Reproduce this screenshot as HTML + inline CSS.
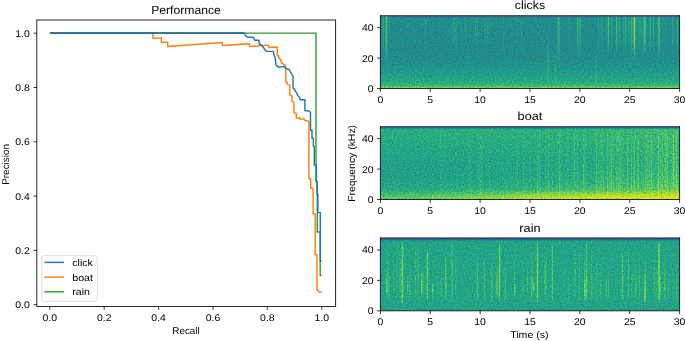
<!DOCTYPE html>
<html><head><meta charset="utf-8"><title>Performance</title>
<style>html,body{margin:0;padding:0;background:#fff;width:685px;height:341px;overflow:hidden}svg{display:block}text{font-family:"Liberation Sans",sans-serif}</style>
</head><body>
<svg width="685" height="341" viewBox="0 0 685 341" font-family="Liberation Sans, sans-serif" fill="#000" text-rendering="geometricPrecision" style="will-change:transform">
<defs>
<clipPath id="clipL"><rect x="36.8" y="20.0" width="298.85" height="286.45"/></clipPath>
<clipPath id="clipS0"><rect x="380.4" y="15.5" width="299.20" height="73.00"/></clipPath>
<clipPath id="clipS1"><rect x="380.4" y="126.5" width="299.20" height="73.00"/></clipPath>
<clipPath id="clipS2"><rect x="380.4" y="237.8" width="299.20" height="73.00"/></clipPath>
<filter id="vf0" filterUnits="userSpaceOnUse" x="380.4" y="15.5" width="299.20" height="73.0" color-interpolation-filters="sRGB"><feTurbulence type="fractalNoise" baseFrequency="0.65" numOctaves="1" seed="3" result="t"/><feColorMatrix in="t" type="matrix" values="1 0 0 0 0  1 0 0 0 0  1 0 0 0 0  0 0 0 0 1" result="tg"/><feComponentTransfer in="tg" result="tn"><feFuncR type="table" tableValues="0.2511 0.2536 0.2561 0.2586 0.2610 0.2635 0.2660 0.2711 0.2847 0.2980 0.3108 0.3233 0.3353 0.3470 0.3582 0.3691 0.3796 0.3898 0.3995 0.4089 0.4180 0.4267 0.4351 0.4432 0.4510 0.4585 0.4657 0.4726 0.4794 0.4859 0.4922 0.4982 0.5041 0.5099 0.5154 0.5208 0.5261 0.5313 0.5363 0.5412 0.5460 0.5507 0.5553 0.5598 0.5643 0.5686 0.5729 0.5772 0.5813 0.5854 0.5895 0.5935 0.5975 0.6014 0.6052 0.6091 0.6128 0.6166 0.6194 0.6218 0.6243 0.6268 0.6293 0.6317 0.6342"/><feFuncG type="table" tableValues="0.2511 0.2536 0.2561 0.2586 0.2610 0.2635 0.2660 0.2711 0.2847 0.2980 0.3108 0.3233 0.3353 0.3470 0.3582 0.3691 0.3796 0.3898 0.3995 0.4089 0.4180 0.4267 0.4351 0.4432 0.4510 0.4585 0.4657 0.4726 0.4794 0.4859 0.4922 0.4982 0.5041 0.5099 0.5154 0.5208 0.5261 0.5313 0.5363 0.5412 0.5460 0.5507 0.5553 0.5598 0.5643 0.5686 0.5729 0.5772 0.5813 0.5854 0.5895 0.5935 0.5975 0.6014 0.6052 0.6091 0.6128 0.6166 0.6194 0.6218 0.6243 0.6268 0.6293 0.6317 0.6342"/><feFuncB type="table" tableValues="0.2511 0.2536 0.2561 0.2586 0.2610 0.2635 0.2660 0.2711 0.2847 0.2980 0.3108 0.3233 0.3353 0.3470 0.3582 0.3691 0.3796 0.3898 0.3995 0.4089 0.4180 0.4267 0.4351 0.4432 0.4510 0.4585 0.4657 0.4726 0.4794 0.4859 0.4922 0.4982 0.5041 0.5099 0.5154 0.5208 0.5261 0.5313 0.5363 0.5412 0.5460 0.5507 0.5553 0.5598 0.5643 0.5686 0.5729 0.5772 0.5813 0.5854 0.5895 0.5935 0.5975 0.6014 0.6052 0.6091 0.6128 0.6166 0.6194 0.6218 0.6243 0.6268 0.6293 0.6317 0.6342"/></feComponentTransfer><feComposite in="SourceGraphic" in2="tn" operator="arithmetic" k1="0" k2="1" k3="1" k4="-0.5" result="v"/><feComponentTransfer in="v"><feFuncR type="table" tableValues="0.2670 0.2699 0.2726 0.2750 0.2770 0.2788 0.2803 0.2814 0.2823 0.2829 0.2832 0.2832 0.2829 0.2823 0.2814 0.2803 0.2788 0.2771 0.2752 0.2730 0.2706 0.2680 0.2651 0.2621 0.2590 0.2556 0.2522 0.2486 0.2450 0.2412 0.2374 0.2336 0.2297 0.2259 0.2220 0.2181 0.2143 0.2105 0.2068 0.2031 0.1994 0.1959 0.1924 0.1889 0.1856 0.1823 0.1790 0.1758 0.1727 0.1696 0.1666 0.1636 0.1607 0.1577 0.1548 0.1519 0.1490 0.1462 0.1433 0.1405 0.1378 0.1351 0.1324 0.1299 0.1276 0.1254 0.1235 0.1218 0.1206 0.1197 0.1194 0.1197 0.1206 0.1223 0.1248 0.1281 0.1323 0.1373 0.1433 0.1501 0.1579 0.1664 0.1757 0.1858 0.1966 0.2080 0.2201 0.2328 0.2461 0.2599 0.2741 0.2889 0.3041 0.3198 0.3359 0.3524 0.3692 0.3864 0.4040 0.4219 0.4401 0.4587 0.4775 0.4966 0.5160 0.5356 0.5555 0.5756 0.5958 0.6163 0.6369 0.6576 0.6785 0.6994 0.7204 0.7414 0.7624 0.7833 0.8042 0.8249 0.8456 0.8660 0.8863 0.9063 0.9261 0.9456 0.9649 0.9839 0.9932"/><feFuncG type="table" tableValues="0.0049 0.0146 0.0256 0.0378 0.0503 0.0621 0.0734 0.0843 0.0950 0.1054 0.1157 0.1258 0.1359 0.1459 0.1558 0.1657 0.1755 0.1852 0.1949 0.2045 0.2141 0.2235 0.2330 0.2423 0.2515 0.2607 0.2698 0.2788 0.2877 0.2965 0.3052 0.3138 0.3224 0.3308 0.3392 0.3474 0.3556 0.3637 0.3718 0.3797 0.3876 0.3954 0.4032 0.4109 0.4186 0.4262 0.4338 0.4413 0.4488 0.4563 0.4637 0.4711 0.4785 0.4859 0.4933 0.5007 0.5081 0.5154 0.5228 0.5301 0.5375 0.5449 0.5522 0.5596 0.5669 0.5743 0.5817 0.5891 0.5964 0.6038 0.6111 0.6185 0.6258 0.6332 0.6405 0.6477 0.6550 0.6623 0.6695 0.6766 0.6838 0.6909 0.6979 0.7049 0.7118 0.7187 0.7255 0.7322 0.7389 0.7455 0.7520 0.7584 0.7647 0.7709 0.7770 0.7830 0.7889 0.7946 0.8003 0.8058 0.8111 0.8164 0.8214 0.8264 0.8312 0.8358 0.8403 0.8446 0.8487 0.8527 0.8565 0.8602 0.8637 0.8671 0.8703 0.8734 0.8764 0.8793 0.8820 0.8847 0.8873 0.8899 0.8924 0.8949 0.8973 0.8998 0.9023 0.9049 0.9062"/><feFuncB type="table" tableValues="0.3294 0.3414 0.3531 0.3645 0.3757 0.3866 0.3972 0.4074 0.4173 0.4269 0.4361 0.4450 0.4534 0.4615 0.4692 0.4765 0.4834 0.4899 0.4960 0.5017 0.5071 0.5120 0.5166 0.5208 0.5247 0.5283 0.5316 0.5346 0.5373 0.5397 0.5419 0.5439 0.5457 0.5473 0.5488 0.5500 0.5512 0.5522 0.5531 0.5539 0.5546 0.5553 0.5558 0.5563 0.5568 0.5571 0.5574 0.5577 0.5579 0.5580 0.5581 0.5581 0.5581 0.5580 0.5578 0.5576 0.5573 0.5568 0.5563 0.5557 0.5549 0.5540 0.5530 0.5519 0.5506 0.5491 0.5474 0.5456 0.5436 0.5414 0.5390 0.5363 0.5335 0.5304 0.5271 0.5235 0.5197 0.5156 0.5112 0.5066 0.5017 0.4965 0.4910 0.4853 0.4792 0.4729 0.4662 0.4593 0.4520 0.4445 0.4366 0.4284 0.4199 0.4112 0.4020 0.3926 0.3829 0.3729 0.3626 0.3519 0.3410 0.3297 0.3182 0.3064 0.2943 0.2819 0.2693 0.2564 0.2433 0.2301 0.2166 0.2031 0.1895 0.1760 0.1626 0.1496 0.1371 0.1254 0.1150 0.1062 0.0997 0.0960 0.0954 0.0981 0.1041 0.1128 0.1239 0.1369 0.1439"/><feFuncA type="linear" slope="0" intercept="1"/></feComponentTransfer></filter>
<filter id="vf1" filterUnits="userSpaceOnUse" x="380.4" y="126.5" width="299.20" height="73.0" color-interpolation-filters="sRGB"><feTurbulence type="fractalNoise" baseFrequency="0.65" numOctaves="1" seed="10" result="t"/><feColorMatrix in="t" type="matrix" values="1 0 0 0 0  1 0 0 0 0  1 0 0 0 0  0 0 0 0 1" result="tg"/><feComponentTransfer in="tg" result="tn"><feFuncR type="table" tableValues="0.2333 0.2360 0.2387 0.2413 0.2440 0.2466 0.2493 0.2547 0.2694 0.2835 0.2973 0.3106 0.3236 0.3360 0.3481 0.3598 0.3710 0.3819 0.3923 0.4024 0.4121 0.4215 0.4305 0.4391 0.4475 0.4555 0.4632 0.4707 0.4779 0.4849 0.4916 0.4981 0.5044 0.5106 0.5165 0.5223 0.5280 0.5335 0.5389 0.5441 0.5493 0.5543 0.5592 0.5641 0.5689 0.5735 0.5781 0.5827 0.5871 0.5916 0.5959 0.6002 0.6044 0.6086 0.6128 0.6169 0.6209 0.6249 0.6279 0.6305 0.6332 0.6358 0.6385 0.6411 0.6438"/><feFuncG type="table" tableValues="0.2333 0.2360 0.2387 0.2413 0.2440 0.2466 0.2493 0.2547 0.2694 0.2835 0.2973 0.3106 0.3236 0.3360 0.3481 0.3598 0.3710 0.3819 0.3923 0.4024 0.4121 0.4215 0.4305 0.4391 0.4475 0.4555 0.4632 0.4707 0.4779 0.4849 0.4916 0.4981 0.5044 0.5106 0.5165 0.5223 0.5280 0.5335 0.5389 0.5441 0.5493 0.5543 0.5592 0.5641 0.5689 0.5735 0.5781 0.5827 0.5871 0.5916 0.5959 0.6002 0.6044 0.6086 0.6128 0.6169 0.6209 0.6249 0.6279 0.6305 0.6332 0.6358 0.6385 0.6411 0.6438"/><feFuncB type="table" tableValues="0.2333 0.2360 0.2387 0.2413 0.2440 0.2466 0.2493 0.2547 0.2694 0.2835 0.2973 0.3106 0.3236 0.3360 0.3481 0.3598 0.3710 0.3819 0.3923 0.4024 0.4121 0.4215 0.4305 0.4391 0.4475 0.4555 0.4632 0.4707 0.4779 0.4849 0.4916 0.4981 0.5044 0.5106 0.5165 0.5223 0.5280 0.5335 0.5389 0.5441 0.5493 0.5543 0.5592 0.5641 0.5689 0.5735 0.5781 0.5827 0.5871 0.5916 0.5959 0.6002 0.6044 0.6086 0.6128 0.6169 0.6209 0.6249 0.6279 0.6305 0.6332 0.6358 0.6385 0.6411 0.6438"/></feComponentTransfer><feComposite in="SourceGraphic" in2="tn" operator="arithmetic" k1="0" k2="1" k3="1" k4="-0.5" result="v"/><feComponentTransfer in="v"><feFuncR type="table" tableValues="0.2670 0.2699 0.2726 0.2750 0.2770 0.2788 0.2803 0.2814 0.2823 0.2829 0.2832 0.2832 0.2829 0.2823 0.2814 0.2803 0.2788 0.2771 0.2752 0.2730 0.2706 0.2680 0.2651 0.2621 0.2590 0.2556 0.2522 0.2486 0.2450 0.2412 0.2374 0.2336 0.2297 0.2259 0.2220 0.2181 0.2143 0.2105 0.2068 0.2031 0.1994 0.1959 0.1924 0.1889 0.1856 0.1823 0.1790 0.1758 0.1727 0.1696 0.1666 0.1636 0.1607 0.1577 0.1548 0.1519 0.1490 0.1462 0.1433 0.1405 0.1378 0.1351 0.1324 0.1299 0.1276 0.1254 0.1235 0.1218 0.1206 0.1197 0.1194 0.1197 0.1206 0.1223 0.1248 0.1281 0.1323 0.1373 0.1433 0.1501 0.1579 0.1664 0.1757 0.1858 0.1966 0.2080 0.2201 0.2328 0.2461 0.2599 0.2741 0.2889 0.3041 0.3198 0.3359 0.3524 0.3692 0.3864 0.4040 0.4219 0.4401 0.4587 0.4775 0.4966 0.5160 0.5356 0.5555 0.5756 0.5958 0.6163 0.6369 0.6576 0.6785 0.6994 0.7204 0.7414 0.7624 0.7833 0.8042 0.8249 0.8456 0.8660 0.8863 0.9063 0.9261 0.9456 0.9649 0.9839 0.9932"/><feFuncG type="table" tableValues="0.0049 0.0146 0.0256 0.0378 0.0503 0.0621 0.0734 0.0843 0.0950 0.1054 0.1157 0.1258 0.1359 0.1459 0.1558 0.1657 0.1755 0.1852 0.1949 0.2045 0.2141 0.2235 0.2330 0.2423 0.2515 0.2607 0.2698 0.2788 0.2877 0.2965 0.3052 0.3138 0.3224 0.3308 0.3392 0.3474 0.3556 0.3637 0.3718 0.3797 0.3876 0.3954 0.4032 0.4109 0.4186 0.4262 0.4338 0.4413 0.4488 0.4563 0.4637 0.4711 0.4785 0.4859 0.4933 0.5007 0.5081 0.5154 0.5228 0.5301 0.5375 0.5449 0.5522 0.5596 0.5669 0.5743 0.5817 0.5891 0.5964 0.6038 0.6111 0.6185 0.6258 0.6332 0.6405 0.6477 0.6550 0.6623 0.6695 0.6766 0.6838 0.6909 0.6979 0.7049 0.7118 0.7187 0.7255 0.7322 0.7389 0.7455 0.7520 0.7584 0.7647 0.7709 0.7770 0.7830 0.7889 0.7946 0.8003 0.8058 0.8111 0.8164 0.8214 0.8264 0.8312 0.8358 0.8403 0.8446 0.8487 0.8527 0.8565 0.8602 0.8637 0.8671 0.8703 0.8734 0.8764 0.8793 0.8820 0.8847 0.8873 0.8899 0.8924 0.8949 0.8973 0.8998 0.9023 0.9049 0.9062"/><feFuncB type="table" tableValues="0.3294 0.3414 0.3531 0.3645 0.3757 0.3866 0.3972 0.4074 0.4173 0.4269 0.4361 0.4450 0.4534 0.4615 0.4692 0.4765 0.4834 0.4899 0.4960 0.5017 0.5071 0.5120 0.5166 0.5208 0.5247 0.5283 0.5316 0.5346 0.5373 0.5397 0.5419 0.5439 0.5457 0.5473 0.5488 0.5500 0.5512 0.5522 0.5531 0.5539 0.5546 0.5553 0.5558 0.5563 0.5568 0.5571 0.5574 0.5577 0.5579 0.5580 0.5581 0.5581 0.5581 0.5580 0.5578 0.5576 0.5573 0.5568 0.5563 0.5557 0.5549 0.5540 0.5530 0.5519 0.5506 0.5491 0.5474 0.5456 0.5436 0.5414 0.5390 0.5363 0.5335 0.5304 0.5271 0.5235 0.5197 0.5156 0.5112 0.5066 0.5017 0.4965 0.4910 0.4853 0.4792 0.4729 0.4662 0.4593 0.4520 0.4445 0.4366 0.4284 0.4199 0.4112 0.4020 0.3926 0.3829 0.3729 0.3626 0.3519 0.3410 0.3297 0.3182 0.3064 0.2943 0.2819 0.2693 0.2564 0.2433 0.2301 0.2166 0.2031 0.1895 0.1760 0.1626 0.1496 0.1371 0.1254 0.1150 0.1062 0.0997 0.0960 0.0954 0.0981 0.1041 0.1128 0.1239 0.1369 0.1439"/><feFuncA type="linear" slope="0" intercept="1"/></feComponentTransfer></filter>
<filter id="vf2" filterUnits="userSpaceOnUse" x="380.4" y="237.8" width="299.20" height="73.0" color-interpolation-filters="sRGB"><feTurbulence type="fractalNoise" baseFrequency="0.65" numOctaves="1" seed="17" result="t"/><feColorMatrix in="t" type="matrix" values="1 0 0 0 0  1 0 0 0 0  1 0 0 0 0  0 0 0 0 1" result="tg"/><feComponentTransfer in="tg" result="tn"><feFuncR type="table" tableValues="0.2511 0.2536 0.2561 0.2586 0.2610 0.2635 0.2660 0.2711 0.2847 0.2980 0.3108 0.3233 0.3353 0.3470 0.3582 0.3691 0.3796 0.3898 0.3995 0.4089 0.4180 0.4267 0.4351 0.4432 0.4510 0.4585 0.4657 0.4726 0.4794 0.4859 0.4922 0.4982 0.5041 0.5099 0.5154 0.5208 0.5261 0.5313 0.5363 0.5412 0.5460 0.5507 0.5553 0.5598 0.5643 0.5686 0.5729 0.5772 0.5813 0.5854 0.5895 0.5935 0.5975 0.6014 0.6052 0.6091 0.6128 0.6166 0.6194 0.6218 0.6243 0.6268 0.6293 0.6317 0.6342"/><feFuncG type="table" tableValues="0.2511 0.2536 0.2561 0.2586 0.2610 0.2635 0.2660 0.2711 0.2847 0.2980 0.3108 0.3233 0.3353 0.3470 0.3582 0.3691 0.3796 0.3898 0.3995 0.4089 0.4180 0.4267 0.4351 0.4432 0.4510 0.4585 0.4657 0.4726 0.4794 0.4859 0.4922 0.4982 0.5041 0.5099 0.5154 0.5208 0.5261 0.5313 0.5363 0.5412 0.5460 0.5507 0.5553 0.5598 0.5643 0.5686 0.5729 0.5772 0.5813 0.5854 0.5895 0.5935 0.5975 0.6014 0.6052 0.6091 0.6128 0.6166 0.6194 0.6218 0.6243 0.6268 0.6293 0.6317 0.6342"/><feFuncB type="table" tableValues="0.2511 0.2536 0.2561 0.2586 0.2610 0.2635 0.2660 0.2711 0.2847 0.2980 0.3108 0.3233 0.3353 0.3470 0.3582 0.3691 0.3796 0.3898 0.3995 0.4089 0.4180 0.4267 0.4351 0.4432 0.4510 0.4585 0.4657 0.4726 0.4794 0.4859 0.4922 0.4982 0.5041 0.5099 0.5154 0.5208 0.5261 0.5313 0.5363 0.5412 0.5460 0.5507 0.5553 0.5598 0.5643 0.5686 0.5729 0.5772 0.5813 0.5854 0.5895 0.5935 0.5975 0.6014 0.6052 0.6091 0.6128 0.6166 0.6194 0.6218 0.6243 0.6268 0.6293 0.6317 0.6342"/></feComponentTransfer><feComposite in="SourceGraphic" in2="tn" operator="arithmetic" k1="0" k2="1" k3="1" k4="-0.5" result="v"/><feComponentTransfer in="v"><feFuncR type="table" tableValues="0.2670 0.2699 0.2726 0.2750 0.2770 0.2788 0.2803 0.2814 0.2823 0.2829 0.2832 0.2832 0.2829 0.2823 0.2814 0.2803 0.2788 0.2771 0.2752 0.2730 0.2706 0.2680 0.2651 0.2621 0.2590 0.2556 0.2522 0.2486 0.2450 0.2412 0.2374 0.2336 0.2297 0.2259 0.2220 0.2181 0.2143 0.2105 0.2068 0.2031 0.1994 0.1959 0.1924 0.1889 0.1856 0.1823 0.1790 0.1758 0.1727 0.1696 0.1666 0.1636 0.1607 0.1577 0.1548 0.1519 0.1490 0.1462 0.1433 0.1405 0.1378 0.1351 0.1324 0.1299 0.1276 0.1254 0.1235 0.1218 0.1206 0.1197 0.1194 0.1197 0.1206 0.1223 0.1248 0.1281 0.1323 0.1373 0.1433 0.1501 0.1579 0.1664 0.1757 0.1858 0.1966 0.2080 0.2201 0.2328 0.2461 0.2599 0.2741 0.2889 0.3041 0.3198 0.3359 0.3524 0.3692 0.3864 0.4040 0.4219 0.4401 0.4587 0.4775 0.4966 0.5160 0.5356 0.5555 0.5756 0.5958 0.6163 0.6369 0.6576 0.6785 0.6994 0.7204 0.7414 0.7624 0.7833 0.8042 0.8249 0.8456 0.8660 0.8863 0.9063 0.9261 0.9456 0.9649 0.9839 0.9932"/><feFuncG type="table" tableValues="0.0049 0.0146 0.0256 0.0378 0.0503 0.0621 0.0734 0.0843 0.0950 0.1054 0.1157 0.1258 0.1359 0.1459 0.1558 0.1657 0.1755 0.1852 0.1949 0.2045 0.2141 0.2235 0.2330 0.2423 0.2515 0.2607 0.2698 0.2788 0.2877 0.2965 0.3052 0.3138 0.3224 0.3308 0.3392 0.3474 0.3556 0.3637 0.3718 0.3797 0.3876 0.3954 0.4032 0.4109 0.4186 0.4262 0.4338 0.4413 0.4488 0.4563 0.4637 0.4711 0.4785 0.4859 0.4933 0.5007 0.5081 0.5154 0.5228 0.5301 0.5375 0.5449 0.5522 0.5596 0.5669 0.5743 0.5817 0.5891 0.5964 0.6038 0.6111 0.6185 0.6258 0.6332 0.6405 0.6477 0.6550 0.6623 0.6695 0.6766 0.6838 0.6909 0.6979 0.7049 0.7118 0.7187 0.7255 0.7322 0.7389 0.7455 0.7520 0.7584 0.7647 0.7709 0.7770 0.7830 0.7889 0.7946 0.8003 0.8058 0.8111 0.8164 0.8214 0.8264 0.8312 0.8358 0.8403 0.8446 0.8487 0.8527 0.8565 0.8602 0.8637 0.8671 0.8703 0.8734 0.8764 0.8793 0.8820 0.8847 0.8873 0.8899 0.8924 0.8949 0.8973 0.8998 0.9023 0.9049 0.9062"/><feFuncB type="table" tableValues="0.3294 0.3414 0.3531 0.3645 0.3757 0.3866 0.3972 0.4074 0.4173 0.4269 0.4361 0.4450 0.4534 0.4615 0.4692 0.4765 0.4834 0.4899 0.4960 0.5017 0.5071 0.5120 0.5166 0.5208 0.5247 0.5283 0.5316 0.5346 0.5373 0.5397 0.5419 0.5439 0.5457 0.5473 0.5488 0.5500 0.5512 0.5522 0.5531 0.5539 0.5546 0.5553 0.5558 0.5563 0.5568 0.5571 0.5574 0.5577 0.5579 0.5580 0.5581 0.5581 0.5581 0.5580 0.5578 0.5576 0.5573 0.5568 0.5563 0.5557 0.5549 0.5540 0.5530 0.5519 0.5506 0.5491 0.5474 0.5456 0.5436 0.5414 0.5390 0.5363 0.5335 0.5304 0.5271 0.5235 0.5197 0.5156 0.5112 0.5066 0.5017 0.4965 0.4910 0.4853 0.4792 0.4729 0.4662 0.4593 0.4520 0.4445 0.4366 0.4284 0.4199 0.4112 0.4020 0.3926 0.3829 0.3729 0.3626 0.3519 0.3410 0.3297 0.3182 0.3064 0.2943 0.2819 0.2693 0.2564 0.2433 0.2301 0.2166 0.2031 0.1895 0.1760 0.1626 0.1496 0.1371 0.1254 0.1150 0.1062 0.0997 0.0960 0.0954 0.0981 0.1041 0.1128 0.1239 0.1369 0.1439"/><feFuncA type="linear" slope="0" intercept="1"/></feComponentTransfer></filter>
<filter id="lut" x="0" y="0" width="1" height="1" color-interpolation-filters="sRGB"><feComponentTransfer><feFuncR type="table" tableValues="0.2670 0.2699 0.2726 0.2750 0.2770 0.2788 0.2803 0.2814 0.2823 0.2829 0.2832 0.2832 0.2829 0.2823 0.2814 0.2803 0.2788 0.2771 0.2752 0.2730 0.2706 0.2680 0.2651 0.2621 0.2590 0.2556 0.2522 0.2486 0.2450 0.2412 0.2374 0.2336 0.2297 0.2259 0.2220 0.2181 0.2143 0.2105 0.2068 0.2031 0.1994 0.1959 0.1924 0.1889 0.1856 0.1823 0.1790 0.1758 0.1727 0.1696 0.1666 0.1636 0.1607 0.1577 0.1548 0.1519 0.1490 0.1462 0.1433 0.1405 0.1378 0.1351 0.1324 0.1299 0.1276 0.1254 0.1235 0.1218 0.1206 0.1197 0.1194 0.1197 0.1206 0.1223 0.1248 0.1281 0.1323 0.1373 0.1433 0.1501 0.1579 0.1664 0.1757 0.1858 0.1966 0.2080 0.2201 0.2328 0.2461 0.2599 0.2741 0.2889 0.3041 0.3198 0.3359 0.3524 0.3692 0.3864 0.4040 0.4219 0.4401 0.4587 0.4775 0.4966 0.5160 0.5356 0.5555 0.5756 0.5958 0.6163 0.6369 0.6576 0.6785 0.6994 0.7204 0.7414 0.7624 0.7833 0.8042 0.8249 0.8456 0.8660 0.8863 0.9063 0.9261 0.9456 0.9649 0.9839 0.9932"/><feFuncG type="table" tableValues="0.0049 0.0146 0.0256 0.0378 0.0503 0.0621 0.0734 0.0843 0.0950 0.1054 0.1157 0.1258 0.1359 0.1459 0.1558 0.1657 0.1755 0.1852 0.1949 0.2045 0.2141 0.2235 0.2330 0.2423 0.2515 0.2607 0.2698 0.2788 0.2877 0.2965 0.3052 0.3138 0.3224 0.3308 0.3392 0.3474 0.3556 0.3637 0.3718 0.3797 0.3876 0.3954 0.4032 0.4109 0.4186 0.4262 0.4338 0.4413 0.4488 0.4563 0.4637 0.4711 0.4785 0.4859 0.4933 0.5007 0.5081 0.5154 0.5228 0.5301 0.5375 0.5449 0.5522 0.5596 0.5669 0.5743 0.5817 0.5891 0.5964 0.6038 0.6111 0.6185 0.6258 0.6332 0.6405 0.6477 0.6550 0.6623 0.6695 0.6766 0.6838 0.6909 0.6979 0.7049 0.7118 0.7187 0.7255 0.7322 0.7389 0.7455 0.7520 0.7584 0.7647 0.7709 0.7770 0.7830 0.7889 0.7946 0.8003 0.8058 0.8111 0.8164 0.8214 0.8264 0.8312 0.8358 0.8403 0.8446 0.8487 0.8527 0.8565 0.8602 0.8637 0.8671 0.8703 0.8734 0.8764 0.8793 0.8820 0.8847 0.8873 0.8899 0.8924 0.8949 0.8973 0.8998 0.9023 0.9049 0.9062"/><feFuncB type="table" tableValues="0.3294 0.3414 0.3531 0.3645 0.3757 0.3866 0.3972 0.4074 0.4173 0.4269 0.4361 0.4450 0.4534 0.4615 0.4692 0.4765 0.4834 0.4899 0.4960 0.5017 0.5071 0.5120 0.5166 0.5208 0.5247 0.5283 0.5316 0.5346 0.5373 0.5397 0.5419 0.5439 0.5457 0.5473 0.5488 0.5500 0.5512 0.5522 0.5531 0.5539 0.5546 0.5553 0.5558 0.5563 0.5568 0.5571 0.5574 0.5577 0.5579 0.5580 0.5581 0.5581 0.5581 0.5580 0.5578 0.5576 0.5573 0.5568 0.5563 0.5557 0.5549 0.5540 0.5530 0.5519 0.5506 0.5491 0.5474 0.5456 0.5436 0.5414 0.5390 0.5363 0.5335 0.5304 0.5271 0.5235 0.5197 0.5156 0.5112 0.5066 0.5017 0.4965 0.4910 0.4853 0.4792 0.4729 0.4662 0.4593 0.4520 0.4445 0.4366 0.4284 0.4199 0.4112 0.4020 0.3926 0.3829 0.3729 0.3626 0.3519 0.3410 0.3297 0.3182 0.3064 0.2943 0.2819 0.2693 0.2564 0.2433 0.2301 0.2166 0.2031 0.1895 0.1760 0.1626 0.1496 0.1371 0.1254 0.1150 0.1062 0.0997 0.0960 0.0954 0.0981 0.1041 0.1128 0.1239 0.1369 0.1439"/></feComponentTransfer></filter>
<linearGradient id="ns_top" x1="0" y1="0" x2="0" y2="1"><stop offset="0.00" stop-color="#fff" stop-opacity="0.80"/><stop offset="0.10" stop-color="#fff" stop-opacity="1.00"/><stop offset="0.55" stop-color="#fff" stop-opacity="0.90"/><stop offset="0.80" stop-color="#fff" stop-opacity="0.50"/><stop offset="1.00" stop-color="#fff" stop-opacity="0.00"/></linearGradient>
<linearGradient id="ns_mid" x1="0" y1="0" x2="0" y2="1"><stop offset="0.00" stop-color="#fff" stop-opacity="0.00"/><stop offset="0.30" stop-color="#fff" stop-opacity="0.50"/><stop offset="0.60" stop-color="#fff" stop-opacity="1.00"/><stop offset="0.85" stop-color="#fff" stop-opacity="0.85"/><stop offset="1.00" stop-color="#fff" stop-opacity="0.00"/></linearGradient>
<linearGradient id="ns_full" x1="0" y1="0" x2="0" y2="1"><stop offset="0.00" stop-color="#fff" stop-opacity="0.20"/><stop offset="0.10" stop-color="#fff" stop-opacity="0.85"/><stop offset="0.50" stop-color="#fff" stop-opacity="1.00"/><stop offset="0.90" stop-color="#fff" stop-opacity="0.85"/><stop offset="1.00" stop-color="#fff" stop-opacity="0.00"/></linearGradient>
<linearGradient id="ns_low" x1="0" y1="0" x2="0" y2="1"><stop offset="0.00" stop-color="#fff" stop-opacity="0.30"/><stop offset="0.10" stop-color="#fff" stop-opacity="0.60"/><stop offset="0.50" stop-color="#fff" stop-opacity="0.80"/><stop offset="0.85" stop-color="#fff" stop-opacity="1.00"/><stop offset="1.00" stop-color="#fff" stop-opacity="0.60"/></linearGradient>
<linearGradient id="rg0" x1="0" y1="0" x2="0" y2="1"><stop offset="0.0000" stop-color="#424242"/><stop offset="0.0164" stop-color="#4a4a4a"/><stop offset="0.0274" stop-color="#707070"/><stop offset="0.0384" stop-color="#7d7d7d"/><stop offset="0.1096" stop-color="#7c7c7c"/><stop offset="0.2740" stop-color="#7a7a7a"/><stop offset="0.4795" stop-color="#797979"/><stop offset="0.5753" stop-color="#7c7c7c"/><stop offset="0.6575" stop-color="#808080"/><stop offset="0.7397" stop-color="#868686"/><stop offset="0.8219" stop-color="#8f8f8f"/><stop offset="0.8767" stop-color="#969696"/><stop offset="0.9178" stop-color="#9d9d9d"/><stop offset="0.9521" stop-color="#a7a7a7"/><stop offset="0.9753" stop-color="#b8b8b8"/><stop offset="0.9890" stop-color="#cccccc"/><stop offset="1.0000" stop-color="#d6d6d6"/></linearGradient>
<linearGradient id="rg1" x1="0" y1="0" x2="0" y2="1"><stop offset="0.0000" stop-color="#424242"/><stop offset="0.0164" stop-color="#4a4a4a"/><stop offset="0.0274" stop-color="#808080"/><stop offset="0.0384" stop-color="#9d9d9d"/><stop offset="0.1370" stop-color="#9c9c9c"/><stop offset="0.2740" stop-color="#989898"/><stop offset="0.4110" stop-color="#939393"/><stop offset="0.5479" stop-color="#909090"/><stop offset="0.6849" stop-color="#909090"/><stop offset="0.7671" stop-color="#939393"/><stop offset="0.8356" stop-color="#989898"/><stop offset="0.8904" stop-color="#9f9f9f"/><stop offset="0.9315" stop-color="#a8a8a8"/><stop offset="0.9658" stop-color="#b0b0b0"/><stop offset="1.0000" stop-color="#b5b5b5"/></linearGradient>
<linearGradient id="rg2" x1="0" y1="0" x2="0" y2="1"><stop offset="0.0000" stop-color="#404040"/><stop offset="0.0192" stop-color="#454545"/><stop offset="0.0301" stop-color="#6e6e6e"/><stop offset="0.0438" stop-color="#939393"/><stop offset="0.4110" stop-color="#949494"/><stop offset="0.6849" stop-color="#949494"/><stop offset="0.8904" stop-color="#949494"/><stop offset="0.9589" stop-color="#939393"/><stop offset="1.0000" stop-color="#939393"/></linearGradient>
<linearGradient id="s0_0" x1="0" y1="0" x2="0" y2="1"><stop offset="0.00" stop-color="#bdbdbd" stop-opacity="1.00"/><stop offset="0.55" stop-color="#b2b2b2" stop-opacity="0.95"/><stop offset="0.80" stop-color="#9c9c9c" stop-opacity="0.60"/><stop offset="1.00" stop-color="#7a7a7a" stop-opacity="0.00"/></linearGradient>
<linearGradient id="s0_1" x1="0" y1="0" x2="0" y2="1"><stop offset="0.00" stop-color="#a3a3a3" stop-opacity="1.00"/><stop offset="0.55" stop-color="#999999" stop-opacity="0.95"/><stop offset="0.80" stop-color="#8f8f8f" stop-opacity="0.60"/><stop offset="1.00" stop-color="#7a7a7a" stop-opacity="0.00"/></linearGradient>
<linearGradient id="s0_11" x1="0" y1="0" x2="0" y2="1"><stop offset="0.00" stop-color="#a8a8a8" stop-opacity="1.00"/><stop offset="0.55" stop-color="#9e9e9e" stop-opacity="0.95"/><stop offset="0.80" stop-color="#919191" stop-opacity="0.60"/><stop offset="1.00" stop-color="#7a7a7a" stop-opacity="0.00"/></linearGradient>
<linearGradient id="s0_12" x1="0" y1="0" x2="0" y2="1"><stop offset="0.00" stop-color="#b2b2b2" stop-opacity="1.00"/><stop offset="0.55" stop-color="#a8a8a8" stop-opacity="0.95"/><stop offset="0.80" stop-color="#969696" stop-opacity="0.60"/><stop offset="1.00" stop-color="#7a7a7a" stop-opacity="0.00"/></linearGradient>
<linearGradient id="s0_13" x1="0" y1="0" x2="0" y2="1"><stop offset="0.00" stop-color="#a8a8a8" stop-opacity="1.00"/><stop offset="0.55" stop-color="#9e9e9e" stop-opacity="0.95"/><stop offset="0.80" stop-color="#919191" stop-opacity="0.60"/><stop offset="1.00" stop-color="#7a7a7a" stop-opacity="0.00"/></linearGradient>
<linearGradient id="s0_14" x1="0" y1="0" x2="0" y2="1"><stop offset="0.00" stop-color="#a3a3a3" stop-opacity="1.00"/><stop offset="0.55" stop-color="#999999" stop-opacity="0.95"/><stop offset="0.80" stop-color="#8f8f8f" stop-opacity="0.60"/><stop offset="1.00" stop-color="#7a7a7a" stop-opacity="0.00"/></linearGradient>
<linearGradient id="s0_18" x1="0" y1="0" x2="0" y2="1"><stop offset="0.00" stop-color="#b8b8b8" stop-opacity="1.00"/><stop offset="0.55" stop-color="#adadad" stop-opacity="0.95"/><stop offset="0.80" stop-color="#999999" stop-opacity="0.60"/><stop offset="1.00" stop-color="#7a7a7a" stop-opacity="0.00"/></linearGradient>
<linearGradient id="s0_19" x1="0" y1="0" x2="0" y2="1"><stop offset="0.00" stop-color="#b8b8b8" stop-opacity="1.00"/><stop offset="0.55" stop-color="#adadad" stop-opacity="0.95"/><stop offset="0.80" stop-color="#999999" stop-opacity="0.60"/><stop offset="1.00" stop-color="#7a7a7a" stop-opacity="0.00"/></linearGradient>
<linearGradient id="s0_21" x1="0" y1="0" x2="0" y2="1"><stop offset="0.00" stop-color="#a8a8a8" stop-opacity="1.00"/><stop offset="0.55" stop-color="#9e9e9e" stop-opacity="0.95"/><stop offset="0.80" stop-color="#919191" stop-opacity="0.60"/><stop offset="1.00" stop-color="#7a7a7a" stop-opacity="0.00"/></linearGradient>
<linearGradient id="s0_22" x1="0" y1="0" x2="0" y2="1"><stop offset="0.00" stop-color="#adadad" stop-opacity="1.00"/><stop offset="0.55" stop-color="#a3a3a3" stop-opacity="0.95"/><stop offset="0.80" stop-color="#949494" stop-opacity="0.60"/><stop offset="1.00" stop-color="#7a7a7a" stop-opacity="0.00"/></linearGradient>
<linearGradient id="s0_23" x1="0" y1="0" x2="0" y2="1"><stop offset="0.00" stop-color="#9e9e9e" stop-opacity="1.00"/><stop offset="0.55" stop-color="#949494" stop-opacity="0.95"/><stop offset="0.80" stop-color="#8c8c8c" stop-opacity="0.60"/><stop offset="1.00" stop-color="#7a7a7a" stop-opacity="0.00"/></linearGradient>
<linearGradient id="s0_24" x1="0" y1="0" x2="0" y2="1"><stop offset="0.00" stop-color="#b8b8b8" stop-opacity="1.00"/><stop offset="0.55" stop-color="#adadad" stop-opacity="0.95"/><stop offset="0.80" stop-color="#999999" stop-opacity="0.60"/><stop offset="1.00" stop-color="#7a7a7a" stop-opacity="0.00"/></linearGradient>
<linearGradient id="s0_25" x1="0" y1="0" x2="0" y2="1"><stop offset="0.00" stop-color="#e0e0e0" stop-opacity="1.00"/><stop offset="0.55" stop-color="#d6d6d6" stop-opacity="0.95"/><stop offset="0.80" stop-color="#adadad" stop-opacity="0.60"/><stop offset="1.00" stop-color="#7a7a7a" stop-opacity="0.00"/></linearGradient>
<linearGradient id="s0_27" x1="0" y1="0" x2="0" y2="1"><stop offset="0.00" stop-color="#9e9e9e" stop-opacity="1.00"/><stop offset="0.55" stop-color="#949494" stop-opacity="0.95"/><stop offset="0.80" stop-color="#8c8c8c" stop-opacity="0.60"/><stop offset="1.00" stop-color="#7a7a7a" stop-opacity="0.00"/></linearGradient>
<linearGradient id="s0_28" x1="0" y1="0" x2="0" y2="1"><stop offset="0.00" stop-color="#bdbdbd" stop-opacity="1.00"/><stop offset="0.55" stop-color="#b2b2b2" stop-opacity="0.95"/><stop offset="0.80" stop-color="#9c9c9c" stop-opacity="0.60"/><stop offset="1.00" stop-color="#7a7a7a" stop-opacity="0.00"/></linearGradient>
<linearGradient id="s0_29" x1="0" y1="0" x2="0" y2="1"><stop offset="0.00" stop-color="#adadad" stop-opacity="1.00"/><stop offset="0.55" stop-color="#a3a3a3" stop-opacity="0.95"/><stop offset="0.80" stop-color="#949494" stop-opacity="0.60"/><stop offset="1.00" stop-color="#7a7a7a" stop-opacity="0.00"/></linearGradient>
<linearGradient id="s0_31" x1="0" y1="0" x2="0" y2="1"><stop offset="0.00" stop-color="#c2c2c2" stop-opacity="1.00"/><stop offset="0.55" stop-color="#b8b8b8" stop-opacity="0.95"/><stop offset="0.80" stop-color="#9e9e9e" stop-opacity="0.60"/><stop offset="1.00" stop-color="#7a7a7a" stop-opacity="0.00"/></linearGradient>
<linearGradient id="s0_34" x1="0" y1="0" x2="0" y2="1"><stop offset="0.00" stop-color="#a0a0a0" stop-opacity="1.00"/><stop offset="0.55" stop-color="#969696" stop-opacity="0.95"/><stop offset="0.80" stop-color="#8d8d8d" stop-opacity="0.60"/><stop offset="1.00" stop-color="#7a7a7a" stop-opacity="0.00"/></linearGradient>
<linearGradient id="s0_35" x1="0" y1="0" x2="0" y2="1"><stop offset="0.00" stop-color="#a1a1a1" stop-opacity="1.00"/><stop offset="0.55" stop-color="#979797" stop-opacity="0.95"/><stop offset="0.80" stop-color="#8e8e8e" stop-opacity="0.60"/><stop offset="1.00" stop-color="#7a7a7a" stop-opacity="0.00"/></linearGradient>
<linearGradient id="s0_36" x1="0" y1="0" x2="0" y2="1"><stop offset="0.00" stop-color="#969696" stop-opacity="1.00"/><stop offset="0.55" stop-color="#8c8c8c" stop-opacity="0.95"/><stop offset="0.80" stop-color="#888888" stop-opacity="0.60"/><stop offset="1.00" stop-color="#7a7a7a" stop-opacity="0.00"/></linearGradient>
<linearGradient id="s0_37" x1="0" y1="0" x2="0" y2="1"><stop offset="0.00" stop-color="#989898" stop-opacity="1.00"/><stop offset="0.55" stop-color="#8e8e8e" stop-opacity="0.95"/><stop offset="0.80" stop-color="#898989" stop-opacity="0.60"/><stop offset="1.00" stop-color="#7a7a7a" stop-opacity="0.00"/></linearGradient>
<linearGradient id="s0_38" x1="0" y1="0" x2="0" y2="1"><stop offset="0.00" stop-color="#989898" stop-opacity="1.00"/><stop offset="0.55" stop-color="#8e8e8e" stop-opacity="0.95"/><stop offset="0.80" stop-color="#898989" stop-opacity="0.60"/><stop offset="1.00" stop-color="#7a7a7a" stop-opacity="0.00"/></linearGradient>
<linearGradient id="s0_39" x1="0" y1="0" x2="0" y2="1"><stop offset="0.00" stop-color="#989898" stop-opacity="1.00"/><stop offset="0.55" stop-color="#8e8e8e" stop-opacity="0.95"/><stop offset="0.80" stop-color="#898989" stop-opacity="0.60"/><stop offset="1.00" stop-color="#7a7a7a" stop-opacity="0.00"/></linearGradient>
<linearGradient id="s0_40" x1="0" y1="0" x2="0" y2="1"><stop offset="0.00" stop-color="#9b9b9b" stop-opacity="1.00"/><stop offset="0.55" stop-color="#919191" stop-opacity="0.95"/><stop offset="0.80" stop-color="#8b8b8b" stop-opacity="0.60"/><stop offset="1.00" stop-color="#7a7a7a" stop-opacity="0.00"/></linearGradient>
<linearGradient id="s0_41" x1="0" y1="0" x2="0" y2="1"><stop offset="0.00" stop-color="#9d9d9d" stop-opacity="1.00"/><stop offset="0.55" stop-color="#939393" stop-opacity="0.95"/><stop offset="0.80" stop-color="#8c8c8c" stop-opacity="0.60"/><stop offset="1.00" stop-color="#7a7a7a" stop-opacity="0.00"/></linearGradient>
<linearGradient id="s0_42" x1="0" y1="0" x2="0" y2="1"><stop offset="0.00" stop-color="#9e9e9e" stop-opacity="1.00"/><stop offset="0.55" stop-color="#939393" stop-opacity="0.95"/><stop offset="0.80" stop-color="#8c8c8c" stop-opacity="0.60"/><stop offset="1.00" stop-color="#7a7a7a" stop-opacity="0.00"/></linearGradient>
<linearGradient id="s0_43" x1="0" y1="0" x2="0" y2="1"><stop offset="0.00" stop-color="#9d9d9d" stop-opacity="1.00"/><stop offset="0.55" stop-color="#929292" stop-opacity="0.95"/><stop offset="0.80" stop-color="#8c8c8c" stop-opacity="0.60"/><stop offset="1.00" stop-color="#7a7a7a" stop-opacity="0.00"/></linearGradient>
<linearGradient id="s0_44" x1="0" y1="0" x2="0" y2="1"><stop offset="0.00" stop-color="#989898" stop-opacity="1.00"/><stop offset="0.55" stop-color="#8e8e8e" stop-opacity="0.95"/><stop offset="0.80" stop-color="#898989" stop-opacity="0.60"/><stop offset="1.00" stop-color="#7a7a7a" stop-opacity="0.00"/></linearGradient>
<linearGradient id="s0_45" x1="0" y1="0" x2="0" y2="1"><stop offset="0.00" stop-color="#9f9f9f" stop-opacity="1.00"/><stop offset="0.55" stop-color="#959595" stop-opacity="0.95"/><stop offset="0.80" stop-color="#8d8d8d" stop-opacity="0.60"/><stop offset="1.00" stop-color="#7a7a7a" stop-opacity="0.00"/></linearGradient>
<linearGradient id="s0_46" x1="0" y1="0" x2="0" y2="1"><stop offset="0.00" stop-color="#979797" stop-opacity="1.00"/><stop offset="0.55" stop-color="#8d8d8d" stop-opacity="0.95"/><stop offset="0.80" stop-color="#898989" stop-opacity="0.60"/><stop offset="1.00" stop-color="#7a7a7a" stop-opacity="0.00"/></linearGradient>
<linearGradient id="s0_47" x1="0" y1="0" x2="0" y2="1"><stop offset="0.00" stop-color="#949494" stop-opacity="1.00"/><stop offset="0.55" stop-color="#8a8a8a" stop-opacity="0.95"/><stop offset="0.80" stop-color="#878787" stop-opacity="0.60"/><stop offset="1.00" stop-color="#7a7a7a" stop-opacity="0.00"/></linearGradient>
<g id="spec0"><g filter="url(#vf0)"><rect x="380.4" y="15.5" width="299.20" height="73.0" fill="url(#rg0)"/><rect x="425.30" y="17.69" width="0.80" height="34.31" fill="url(#ns_top)" opacity="0.231"/><rect x="454.25" y="17.69" width="0.90" height="34.31" fill="url(#ns_top)" opacity="0.250"/><rect x="456.45" y="17.69" width="0.90" height="34.31" fill="url(#ns_top)" opacity="0.231"/><rect x="475.05" y="17.69" width="0.90" height="34.31" fill="url(#ns_top)" opacity="0.231"/><rect x="477.05" y="17.69" width="0.90" height="30.66" fill="url(#ns_top)" opacity="0.212"/><rect x="485.05" y="17.69" width="0.90" height="34.31" fill="url(#ns_top)" opacity="0.231"/><rect x="487.35" y="17.69" width="0.90" height="34.31" fill="url(#ns_top)" opacity="0.231"/><rect x="521.05" y="17.69" width="0.90" height="34.31" fill="url(#ns_top)" opacity="0.212"/><rect x="548.35" y="37.40" width="0.90" height="36.50" fill="url(#ns_mid)" opacity="0.231"/><rect x="547.40" y="30.10" width="1.00" height="51.10" fill="url(#ns_mid)" opacity="0.269"/><rect x="555.30" y="41.05" width="1.00" height="43.80" fill="url(#ns_mid)" opacity="0.269"/><rect x="595.50" y="44.70" width="1.00" height="40.15" fill="url(#ns_mid)" opacity="0.269"/><rect x="618.80" y="16.96" width="1.00" height="35.04" fill="url(#ns_top)" opacity="0.308"/><rect x="635.85" y="16.96" width="0.90" height="35.04" fill="url(#ns_top)" opacity="0.231"/><rect x="653.00" y="16.96" width="1.00" height="36.50" fill="url(#ns_top)" opacity="0.308"/><rect x="672.10" y="16.96" width="1.00" height="35.04" fill="url(#ns_top)" opacity="0.231"/><rect x="677.00" y="16.96" width="1.00" height="35.04" fill="url(#ns_top)" opacity="0.250"/><rect x="568.84" y="16.96" width="0.80" height="36.21" fill="url(#ns_top)" opacity="0.184"/><rect x="464.93" y="16.96" width="0.80" height="31.58" fill="url(#ns_top)" opacity="0.194"/><rect x="511.21" y="16.96" width="0.80" height="37.17" fill="url(#ns_top)" opacity="0.117"/><rect x="579.11" y="16.96" width="0.80" height="28.86" fill="url(#ns_top)" opacity="0.183"/><rect x="502.90" y="16.96" width="0.80" height="41.17" fill="url(#ns_top)" opacity="0.146"/><rect x="388.22" y="16.96" width="0.80" height="29.14" fill="url(#ns_top)" opacity="0.117"/><rect x="452.46" y="16.96" width="0.80" height="35.98" fill="url(#ns_top)" opacity="0.200"/><rect x="517.07" y="16.96" width="0.80" height="30.29" fill="url(#ns_top)" opacity="0.120"/><rect x="460.75" y="16.96" width="0.80" height="38.71" fill="url(#ns_top)" opacity="0.176"/><rect x="499.54" y="16.96" width="0.80" height="30.36" fill="url(#ns_top)" opacity="0.142"/></g><g filter="url(#lut)"><rect x="385.60" y="16.23" width="1.60" height="53.29" fill="url(#s0_0)"/><rect x="383.00" y="16.23" width="1.00" height="43.07" fill="url(#s0_1)"/><rect x="557.60" y="16.96" width="2.00" height="55.48" fill="url(#s0_11)"/><rect x="577.25" y="16.96" width="1.10" height="45.99" fill="url(#s0_12)"/><rect x="579.75" y="16.96" width="1.10" height="45.99" fill="url(#s0_13)"/><rect x="601.70" y="16.96" width="1.00" height="43.80" fill="url(#s0_14)"/><rect x="607.80" y="16.96" width="1.20" height="43.80" fill="url(#s0_18)"/><rect x="616.10" y="16.96" width="1.20" height="42.34" fill="url(#s0_19)"/><rect x="623.05" y="16.96" width="1.10" height="42.34" fill="url(#s0_21)"/><rect x="625.05" y="16.96" width="1.10" height="42.34" fill="url(#s0_22)"/><rect x="628.70" y="16.96" width="1.00" height="38.69" fill="url(#s0_23)"/><rect x="631.15" y="16.96" width="1.10" height="45.99" fill="url(#s0_24)"/><rect x="633.75" y="16.96" width="1.30" height="48.18" fill="url(#s0_25)"/><rect x="638.90" y="16.96" width="1.00" height="40.88" fill="url(#s0_27)"/><rect x="643.30" y="16.96" width="2.40" height="43.80" fill="url(#s0_28)"/><rect x="649.95" y="16.96" width="1.10" height="40.88" fill="url(#s0_29)"/><rect x="658.30" y="16.96" width="1.40" height="46.72" fill="url(#s0_31)"/><rect x="649.40" y="16.96" width="0.80" height="41.75" fill="url(#s0_34)"/><rect x="598.19" y="16.96" width="0.80" height="45.71" fill="url(#s0_35)"/><rect x="622.93" y="16.96" width="0.80" height="45.38" fill="url(#s0_36)"/><rect x="641.62" y="16.96" width="0.80" height="41.20" fill="url(#s0_37)"/><rect x="665.06" y="16.96" width="0.80" height="43.86" fill="url(#s0_38)"/><rect x="643.32" y="16.96" width="0.80" height="34.09" fill="url(#s0_39)"/><rect x="662.21" y="16.96" width="0.80" height="37.83" fill="url(#s0_40)"/><rect x="640.15" y="16.96" width="0.80" height="31.39" fill="url(#s0_41)"/><rect x="610.86" y="16.96" width="0.80" height="42.50" fill="url(#s0_42)"/><rect x="636.47" y="16.96" width="0.80" height="34.18" fill="url(#s0_43)"/><rect x="649.66" y="16.96" width="0.80" height="41.96" fill="url(#s0_44)"/><rect x="628.41" y="16.96" width="0.80" height="37.00" fill="url(#s0_45)"/><rect x="606.62" y="16.96" width="0.80" height="40.76" fill="url(#s0_46)"/><rect x="612.03" y="16.96" width="0.80" height="34.20" fill="url(#s0_47)"/></g></g>
<linearGradient id="bb1" x1="0" y1="0" x2="0" y2="1"><stop offset="0" stop-color="#fff" stop-opacity="0"/><stop offset="0.4" stop-color="#fff" stop-opacity="0.1"/><stop offset="0.65" stop-color="#fff" stop-opacity="0.45"/><stop offset="0.85" stop-color="#fff" stop-opacity="0.7"/><stop offset="1" stop-color="#fff" stop-opacity="0.78"/></linearGradient>
<linearGradient id="bm1" x1="0" y1="0" x2="1" y2="0"><stop offset="0" stop-color="#fff" stop-opacity="0.18"/><stop offset="0.2" stop-color="#fff" stop-opacity="0.3"/><stop offset="0.4" stop-color="#fff" stop-opacity="0.62"/><stop offset="0.55" stop-color="#fff" stop-opacity="0.82"/><stop offset="0.75" stop-color="#fff" stop-opacity="0.92"/><stop offset="1" stop-color="#fff" stop-opacity="1"/></linearGradient>
<mask id="m1" maskUnits="userSpaceOnUse" x="380.4" y="126.5" width="299.20000000000005" height="73.0"><rect x="380.4" y="126.5" width="299.20000000000005" height="73.0" fill="url(#bm1)"/></mask>
<linearGradient id="br1" x1="0" y1="0" x2="1" y2="0"><stop offset="0" stop-color="#fff" stop-opacity="0"/><stop offset="0.5" stop-color="#fff" stop-opacity="0.02"/><stop offset="0.8" stop-color="#fff" stop-opacity="0.08"/><stop offset="1" stop-color="#fff" stop-opacity="0.16"/></linearGradient>
<linearGradient id="bb2" x1="0" y1="0" x2="0" y2="1"><stop offset="0" stop-color="#fff" stop-opacity="0"/><stop offset="0.5" stop-color="#fff" stop-opacity="0.12"/><stop offset="1" stop-color="#fff" stop-opacity="0.3"/></linearGradient>
<linearGradient id="bm2" x1="0" y1="0" x2="1" y2="0"><stop offset="0" stop-color="#fff" stop-opacity="0"/><stop offset="0.45" stop-color="#fff" stop-opacity="0.1"/><stop offset="0.7" stop-color="#fff" stop-opacity="0.55"/><stop offset="1" stop-color="#fff" stop-opacity="1"/></linearGradient>
<mask id="m2" maskUnits="userSpaceOnUse" x="380.4" y="126.5" width="299.20000000000005" height="73.0"><rect x="380.4" y="126.5" width="299.20000000000005" height="73.0" fill="url(#bm2)"/></mask>
<g id="spec1"><g filter="url(#vf1)"><rect x="380.4" y="126.5" width="299.20" height="73.0" fill="url(#rg1)"/><rect x="380.4" y="128.50" width="299.20" height="71.00" fill="url(#br1)"/><rect x="380.4" y="163.50" width="299.20" height="36" fill="url(#bb2)" mask="url(#m2)"/><rect x="380.4" y="184.50" width="299.20" height="15" fill="url(#bb1)" mask="url(#m1)"/><rect x="440.10" y="128.69" width="1.00" height="68.62" fill="url(#ns_low)" opacity="0.146"/><rect x="442.63" y="128.69" width="1.00" height="68.62" fill="url(#ns_low)" opacity="0.095"/><rect x="444.85" y="128.69" width="1.00" height="68.62" fill="url(#ns_low)" opacity="0.093"/><rect x="455.69" y="128.69" width="1.00" height="68.62" fill="url(#ns_low)" opacity="0.096"/><rect x="468.58" y="128.69" width="1.00" height="68.62" fill="url(#ns_low)" opacity="0.174"/><rect x="470.54" y="128.69" width="1.00" height="68.62" fill="url(#ns_low)" opacity="0.182"/><rect x="477.18" y="128.69" width="1.00" height="68.62" fill="url(#ns_low)" opacity="0.163"/><rect x="479.53" y="128.69" width="1.00" height="68.62" fill="url(#ns_low)" opacity="0.248"/><rect x="481.50" y="128.69" width="1.00" height="68.62" fill="url(#ns_low)" opacity="0.206"/><rect x="485.90" y="128.69" width="1.00" height="68.62" fill="url(#ns_low)" opacity="0.080"/><rect x="488.81" y="128.69" width="1.00" height="68.62" fill="url(#ns_low)" opacity="0.169"/><rect x="492.46" y="128.69" width="1.00" height="68.62" fill="url(#ns_low)" opacity="0.077"/><rect x="501.95" y="128.69" width="1.00" height="68.62" fill="url(#ns_low)" opacity="0.081"/><rect x="505.59" y="128.69" width="1.00" height="68.62" fill="url(#ns_low)" opacity="0.145"/><rect x="508.54" y="128.69" width="1.00" height="68.62" fill="url(#ns_low)" opacity="0.079"/><rect x="510.64" y="128.69" width="1.00" height="68.62" fill="url(#ns_low)" opacity="0.103"/><rect x="512.70" y="128.69" width="1.00" height="68.62" fill="url(#ns_low)" opacity="0.088"/><rect x="516.69" y="128.69" width="1.00" height="68.62" fill="url(#ns_low)" opacity="0.267"/><rect x="518.99" y="128.69" width="1.00" height="68.62" fill="url(#ns_low)" opacity="0.078"/><rect x="523.32" y="128.69" width="1.00" height="68.62" fill="url(#ns_low)" opacity="0.285"/><rect x="526.28" y="128.69" width="1.00" height="68.62" fill="url(#ns_low)" opacity="0.138"/><rect x="530.01" y="128.69" width="1.00" height="68.62" fill="url(#ns_low)" opacity="0.185"/><rect x="534.50" y="128.69" width="1.00" height="68.62" fill="url(#ns_low)" opacity="0.091"/><rect x="537.04" y="128.69" width="1.00" height="68.62" fill="url(#ns_low)" opacity="0.297"/><rect x="539.19" y="128.69" width="1.00" height="68.62" fill="url(#ns_low)" opacity="0.250"/><rect x="545.24" y="128.69" width="1.00" height="68.62" fill="url(#ns_low)" opacity="0.245"/><rect x="548.19" y="128.69" width="1.00" height="68.62" fill="url(#ns_low)" opacity="0.292"/><rect x="551.86" y="128.69" width="1.00" height="68.62" fill="url(#ns_low)" opacity="0.175"/><rect x="556.46" y="128.69" width="1.00" height="68.62" fill="url(#ns_low)" opacity="0.144"/><rect x="558.94" y="128.69" width="1.00" height="68.62" fill="url(#ns_low)" opacity="0.327"/><rect x="560.58" y="128.69" width="1.00" height="68.62" fill="url(#ns_low)" opacity="0.220"/><rect x="565.02" y="128.69" width="1.00" height="68.62" fill="url(#ns_low)" opacity="0.085"/><rect x="567.42" y="128.69" width="1.00" height="68.62" fill="url(#ns_low)" opacity="0.266"/><rect x="571.82" y="128.69" width="1.00" height="68.62" fill="url(#ns_low)" opacity="0.113"/><rect x="573.82" y="128.69" width="1.00" height="68.62" fill="url(#ns_low)" opacity="0.356"/><rect x="576.86" y="128.69" width="1.00" height="68.62" fill="url(#ns_low)" opacity="0.249"/><rect x="583.18" y="128.69" width="1.00" height="68.62" fill="url(#ns_low)" opacity="0.332"/><rect x="584.75" y="128.69" width="1.00" height="68.62" fill="url(#ns_low)" opacity="0.224"/><rect x="595.95" y="128.69" width="1.00" height="68.62" fill="url(#ns_low)" opacity="0.339"/><rect x="598.40" y="128.69" width="1.00" height="68.62" fill="url(#ns_low)" opacity="0.206"/><rect x="600.70" y="128.69" width="1.00" height="68.62" fill="url(#ns_low)" opacity="0.280"/><rect x="602.66" y="128.69" width="1.00" height="68.62" fill="url(#ns_low)" opacity="0.288"/><rect x="607.12" y="128.69" width="1.00" height="68.62" fill="url(#ns_low)" opacity="0.353"/><rect x="609.42" y="128.69" width="1.00" height="68.62" fill="url(#ns_low)" opacity="0.311"/><rect x="611.20" y="128.69" width="1.00" height="68.62" fill="url(#ns_low)" opacity="0.421"/><rect x="613.33" y="128.69" width="1.00" height="68.62" fill="url(#ns_low)" opacity="0.270"/><rect x="616.28" y="128.69" width="1.00" height="68.62" fill="url(#ns_low)" opacity="0.362"/><rect x="618.46" y="128.69" width="1.00" height="68.62" fill="url(#ns_low)" opacity="0.401"/><rect x="620.24" y="128.69" width="1.00" height="68.62" fill="url(#ns_low)" opacity="0.309"/><rect x="622.25" y="128.69" width="1.00" height="68.62" fill="url(#ns_low)" opacity="0.215"/><rect x="627.06" y="128.69" width="1.00" height="68.62" fill="url(#ns_low)" opacity="0.352"/><rect x="630.96" y="128.69" width="1.00" height="68.62" fill="url(#ns_low)" opacity="0.288"/><rect x="633.81" y="128.69" width="1.00" height="68.62" fill="url(#ns_low)" opacity="0.385"/><rect x="637.61" y="128.69" width="1.00" height="68.62" fill="url(#ns_low)" opacity="0.415"/><rect x="642.52" y="128.69" width="1.00" height="68.62" fill="url(#ns_low)" opacity="0.109"/><rect x="644.95" y="128.69" width="1.00" height="68.62" fill="url(#ns_low)" opacity="0.243"/><rect x="646.71" y="128.69" width="1.00" height="68.62" fill="url(#ns_low)" opacity="0.319"/><rect x="648.63" y="128.69" width="1.00" height="68.62" fill="url(#ns_low)" opacity="0.274"/><rect x="650.87" y="128.69" width="1.00" height="68.62" fill="url(#ns_low)" opacity="0.421"/><rect x="653.36" y="128.69" width="1.00" height="68.62" fill="url(#ns_low)" opacity="0.101"/><rect x="657.84" y="128.69" width="1.00" height="68.62" fill="url(#ns_low)" opacity="0.481"/><rect x="659.71" y="128.69" width="1.00" height="68.62" fill="url(#ns_low)" opacity="0.247"/><rect x="661.99" y="128.69" width="1.00" height="68.62" fill="url(#ns_low)" opacity="0.299"/><rect x="664.67" y="128.69" width="1.00" height="68.62" fill="url(#ns_low)" opacity="0.437"/><rect x="666.84" y="128.69" width="1.00" height="68.62" fill="url(#ns_low)" opacity="0.245"/><rect x="670.86" y="128.69" width="1.00" height="68.62" fill="url(#ns_low)" opacity="0.141"/><rect x="672.75" y="128.69" width="1.00" height="68.62" fill="url(#ns_low)" opacity="0.104"/><rect x="675.64" y="128.69" width="1.00" height="68.62" fill="url(#ns_low)" opacity="0.240"/><rect x="677.15" y="128.69" width="1.00" height="68.62" fill="url(#ns_low)" opacity="0.086"/><rect x="672.75" y="130.15" width="1.50" height="67.89" fill="url(#ns_full)" opacity="0.366"/><rect x="666.40" y="130.15" width="1.20" height="67.89" fill="url(#ns_full)" opacity="0.220"/><rect x="675.90" y="130.15" width="1.20" height="67.89" fill="url(#ns_full)" opacity="0.268"/></g></g>
<g id="spec2"><g filter="url(#vf2)"><rect x="380.4" y="237.8" width="299.20" height="73.0" fill="url(#rg2)"/><rect x="386.10" y="267.00" width="1.20" height="29.20" fill="url(#ns_mid)" opacity="0.429"/><rect x="388.90" y="267.00" width="1.00" height="36.50" fill="url(#ns_mid)" opacity="0.238"/><rect x="401.65" y="239.99" width="1.30" height="67.16" fill="url(#ns_full)" opacity="0.524"/><rect x="403.50" y="245.10" width="1.00" height="58.40" fill="url(#ns_full)" opacity="0.190"/><rect x="409.50" y="270.65" width="1.00" height="29.20" fill="url(#ns_mid)" opacity="0.238"/><rect x="415.10" y="245.10" width="1.00" height="54.75" fill="url(#ns_full)" opacity="0.238"/><rect x="417.40" y="245.10" width="1.00" height="54.75" fill="url(#ns_full)" opacity="0.286"/><rect x="420.95" y="267.00" width="1.30" height="29.20" fill="url(#ns_mid)" opacity="0.524"/><rect x="422.70" y="259.70" width="1.00" height="40.15" fill="url(#ns_mid)" opacity="0.333"/><rect x="426.65" y="248.75" width="1.30" height="54.75" fill="url(#ns_full)" opacity="0.524"/><rect x="432.30" y="277.95" width="1.20" height="19.71" fill="url(#ns_mid)" opacity="0.476"/><rect x="439.60" y="274.30" width="1.00" height="25.55" fill="url(#ns_mid)" opacity="0.238"/><rect x="445.00" y="256.05" width="1.20" height="43.80" fill="url(#ns_full)" opacity="0.381"/><rect x="451.60" y="241.45" width="1.20" height="58.40" fill="url(#ns_full)" opacity="0.381"/><rect x="476.80" y="256.05" width="1.00" height="45.99" fill="url(#ns_full)" opacity="0.333"/><rect x="483.80" y="259.70" width="1.00" height="42.34" fill="url(#ns_full)" opacity="0.333"/><rect x="490.90" y="263.35" width="1.00" height="40.15" fill="url(#ns_full)" opacity="0.286"/><rect x="498.95" y="241.45" width="1.30" height="60.59" fill="url(#ns_full)" opacity="0.571"/><rect x="514.20" y="281.60" width="1.20" height="14.60" fill="url(#ns_mid)" opacity="0.429"/><rect x="522.50" y="267.00" width="1.00" height="32.85" fill="url(#ns_mid)" opacity="0.286"/><rect x="532.80" y="277.95" width="1.60" height="14.60" fill="url(#ns_mid)" opacity="0.476"/><rect x="536.85" y="239.99" width="1.30" height="64.97" fill="url(#ns_full)" opacity="0.571"/><rect x="551.75" y="241.45" width="1.10" height="63.51" fill="url(#ns_full)" opacity="0.429"/><rect x="578.80" y="252.40" width="1.00" height="51.10" fill="url(#ns_full)" opacity="0.286"/><rect x="584.45" y="270.65" width="1.30" height="32.85" fill="url(#ns_mid)" opacity="0.571"/><rect x="586.10" y="241.45" width="1.00" height="62.05" fill="url(#ns_full)" opacity="0.381"/><rect x="596.40" y="259.70" width="1.00" height="42.34" fill="url(#ns_full)" opacity="0.286"/><rect x="605.75" y="270.65" width="1.10" height="29.20" fill="url(#ns_mid)" opacity="0.381"/><rect x="608.10" y="267.00" width="1.00" height="32.85" fill="url(#ns_mid)" opacity="0.333"/><rect x="622.00" y="252.40" width="1.20" height="49.64" fill="url(#ns_full)" opacity="0.429"/><rect x="628.00" y="248.75" width="1.00" height="51.10" fill="url(#ns_full)" opacity="0.286"/><rect x="644.20" y="270.65" width="1.40" height="34.31" fill="url(#ns_mid)" opacity="0.619"/><rect x="658.30" y="239.99" width="1.40" height="64.97" fill="url(#ns_full)" opacity="0.619"/><rect x="664.30" y="267.00" width="1.00" height="35.04" fill="url(#ns_mid)" opacity="0.286"/><rect x="667.90" y="267.00" width="1.00" height="35.04" fill="url(#ns_mid)" opacity="0.286"/><rect x="672.50" y="267.00" width="1.00" height="35.04" fill="url(#ns_mid)" opacity="0.286"/><rect x="676.10" y="259.70" width="1.00" height="42.34" fill="url(#ns_mid)" opacity="0.333"/><rect x="619.78" y="265.04" width="1.00" height="34.92" fill="url(#ns_mid)" opacity="0.163"/><rect x="494.98" y="253.38" width="1.00" height="43.15" fill="url(#ns_full)" opacity="0.107"/><rect x="574.60" y="248.30" width="1.00" height="51.08" fill="url(#ns_full)" opacity="0.327"/><rect x="631.39" y="252.91" width="1.00" height="46.89" fill="url(#ns_mid)" opacity="0.256"/><rect x="545.96" y="249.38" width="1.00" height="53.25" fill="url(#ns_full)" opacity="0.111"/><rect x="639.05" y="248.09" width="1.00" height="54.65" fill="url(#ns_mid)" opacity="0.303"/><rect x="590.92" y="241.49" width="1.00" height="58.39" fill="url(#ns_mid)" opacity="0.199"/><rect x="477.68" y="264.99" width="1.00" height="33.52" fill="url(#ns_full)" opacity="0.131"/><rect x="514.27" y="264.78" width="1.00" height="33.14" fill="url(#ns_full)" opacity="0.171"/><rect x="531.59" y="256.24" width="1.00" height="41.69" fill="url(#ns_full)" opacity="0.099"/><rect x="406.90" y="266.12" width="1.00" height="32.76" fill="url(#ns_mid)" opacity="0.322"/><rect x="658.69" y="257.69" width="1.00" height="40.26" fill="url(#ns_full)" opacity="0.272"/><rect x="584.02" y="254.99" width="1.00" height="42.83" fill="url(#ns_mid)" opacity="0.248"/><rect x="586.40" y="260.00" width="1.00" height="38.95" fill="url(#ns_mid)" opacity="0.285"/><rect x="497.08" y="264.75" width="1.00" height="34.23" fill="url(#ns_full)" opacity="0.265"/><rect x="660.04" y="270.41" width="1.00" height="31.08" fill="url(#ns_mid)" opacity="0.288"/><rect x="592.52" y="266.20" width="1.00" height="32.93" fill="url(#ns_mid)" opacity="0.227"/><rect x="665.22" y="250.71" width="1.00" height="48.42" fill="url(#ns_mid)" opacity="0.095"/><rect x="568.41" y="268.75" width="1.00" height="34.19" fill="url(#ns_full)" opacity="0.173"/><rect x="437.05" y="265.49" width="1.00" height="31.86" fill="url(#ns_mid)" opacity="0.192"/><rect x="635.48" y="265.65" width="1.00" height="31.57" fill="url(#ns_mid)" opacity="0.221"/><rect x="527.07" y="257.60" width="1.00" height="39.37" fill="url(#ns_mid)" opacity="0.301"/><rect x="513.85" y="243.12" width="1.00" height="53.10" fill="url(#ns_mid)" opacity="0.142"/><rect x="656.22" y="267.43" width="1.00" height="32.28" fill="url(#ns_full)" opacity="0.204"/><rect x="635.69" y="251.30" width="1.00" height="50.69" fill="url(#ns_mid)" opacity="0.190"/><rect x="599.79" y="256.09" width="1.00" height="45.15" fill="url(#ns_mid)" opacity="0.261"/><rect x="393.06" y="245.80" width="1.00" height="51.96" fill="url(#ns_mid)" opacity="0.144"/><rect x="445.79" y="259.00" width="1.00" height="43.67" fill="url(#ns_mid)" opacity="0.178"/><rect x="504.86" y="261.32" width="1.00" height="40.62" fill="url(#ns_mid)" opacity="0.319"/><rect x="590.71" y="251.43" width="1.00" height="50.79" fill="url(#ns_full)" opacity="0.150"/><rect x="531.01" y="262.63" width="1.00" height="37.48" fill="url(#ns_mid)" opacity="0.171"/><rect x="396.43" y="242.71" width="1.00" height="57.36" fill="url(#ns_full)" opacity="0.209"/><rect x="387.46" y="257.71" width="1.00" height="42.07" fill="url(#ns_full)" opacity="0.238"/><rect x="536.82" y="257.89" width="1.00" height="41.90" fill="url(#ns_mid)" opacity="0.242"/><rect x="545.07" y="261.08" width="1.00" height="36.51" fill="url(#ns_full)" opacity="0.331"/><rect x="664.28" y="250.03" width="1.00" height="49.40" fill="url(#ns_mid)" opacity="0.157"/><rect x="386.44" y="248.66" width="1.00" height="53.83" fill="url(#ns_full)" opacity="0.134"/><rect x="455.32" y="243.37" width="1.00" height="54.24" fill="url(#ns_mid)" opacity="0.257"/><rect x="544.01" y="254.68" width="1.00" height="43.52" fill="url(#ns_full)" opacity="0.212"/><rect x="441.14" y="262.85" width="1.00" height="35.19" fill="url(#ns_mid)" opacity="0.141"/><rect x="408.96" y="268.76" width="1.00" height="30.10" fill="url(#ns_mid)" opacity="0.137"/><rect x="399.39" y="247.72" width="1.00" height="51.53" fill="url(#ns_full)" opacity="0.238"/><rect x="645.08" y="248.52" width="1.00" height="52.14" fill="url(#ns_mid)" opacity="0.315"/><rect x="634.30" y="253.02" width="1.00" height="48.89" fill="url(#ns_full)" opacity="0.172"/><rect x="531.58" y="244.50" width="1.00" height="57.25" fill="url(#ns_mid)" opacity="0.291"/><rect x="496.35" y="269.12" width="1.00" height="29.82" fill="url(#ns_mid)" opacity="0.305"/><rect x="492.06" y="252.00" width="1.00" height="44.63" fill="url(#ns_mid)" opacity="0.161"/><rect x="399.95" y="257.26" width="1.00" height="42.16" fill="url(#ns_mid)" opacity="0.101"/><rect x="653.44" y="245.35" width="1.00" height="53.57" fill="url(#ns_mid)" opacity="0.322"/><rect x="502.81" y="264.84" width="1.00" height="31.50" fill="url(#ns_full)" opacity="0.111"/><rect x="584.03" y="249.07" width="1.00" height="50.63" fill="url(#ns_full)" opacity="0.155"/><rect x="662.64" y="243.52" width="1.00" height="56.50" fill="url(#ns_mid)" opacity="0.139"/><rect x="600.89" y="262.28" width="1.00" height="35.31" fill="url(#ns_mid)" opacity="0.174"/><rect x="495.84" y="261.37" width="1.00" height="40.59" fill="url(#ns_mid)" opacity="0.175"/><rect x="401.42" y="252.16" width="1.00" height="50.95" fill="url(#ns_mid)" opacity="0.215"/></g></g>
</defs>
<rect width="685" height="341" fill="#fff"/>
<g clip-path="url(#clipL)">
<polyline points="49.8,33.1 316.0,33.1 316.0,181.5 317.3,181.5 317.3,232.0 320.2,232.0 320.2,275.6 321.8,275.6" fill="none" stroke="#2ca02c" stroke-width="1.44" stroke-linejoin="round" stroke-linecap="butt"/>
<polyline points="49.8,33.1 152.9,33.1 152.9,38.2 161.4,37.9 161.4,42.4 167.7,42.2 167.7,46.5 222.3,42.5 222.5,45.5 249.4,43.8 249.7,46.5 268.3,45.1 269.0,47.5 277.3,47.0 277.3,55.4 278.6,55.7 279.1,58.9 280.7,59.2 281.3,62.0 281.8,63.1 283.1,63.5 283.5,64.4 284.8,64.8 285.7,66.2 285.7,82.0 287.0,82.4 287.5,84.6 289.2,85.0 289.8,85.2 289.8,95.0 291.4,95.6 292.0,95.8 292.0,101.4 293.8,102.0 294.1,113.1 296.3,113.3 296.3,118.0 299.9,117.7 300.2,119.4 304.1,118.8 304.4,120.1 308.7,121.2 308.9,121.5 308.9,178.8 310.7,178.8 310.7,188.2 313.1,188.2 313.1,214.0 315.2,214.0 315.2,254.8 317.0,254.8 317.0,290.2 318.8,291.2 319.2,292.1 321.8,292.1" fill="none" stroke="#ff7f0e" stroke-width="1.44" stroke-linejoin="round" stroke-linecap="butt"/>
<polyline points="49.8,33.1 244.5,33.1 244.8,34.6 245.7,35.5 246.0,36.4 247.5,37.2 253.2,37.2 254.1,39.0 255.0,40.3 258.9,40.3 259.3,44.3 261.1,44.7 262.9,46.9 264.2,48.7 265.5,50.4 266.4,51.3 267.2,51.4 273.4,51.4 273.8,53.6 274.2,55.8 275.1,57.6 275.6,61.1 276.0,65.5 277.8,66.0 278.2,67.3 279.1,67.3 283.9,66.4 285.2,67.6 286.2,68.8 288.8,69.2 290.1,71.0 291.4,73.6 292.8,75.8 293.0,76.0 293.0,88.1 294.4,89.1 295.6,91.4 296.7,93.2 297.9,95.6 299.7,97.9 300.2,99.7 304.9,99.7 304.9,110.5 309.0,111.0 310.5,112.6 310.5,130.3 312.0,130.3 312.0,138.3 313.4,138.3 313.4,146.4 314.3,146.4 314.3,165.0 316.3,165.5 316.5,182.0 316.9,182.0 317.1,194.4 317.9,194.5 317.9,212.4 320.3,212.6 320.3,261.0 321.8,261.0" fill="none" stroke="#1f77b4" stroke-width="1.44" stroke-linejoin="round" stroke-linecap="butt"/>
<line x1="50.3" y1="33.1" x2="244.2" y2="33.1" stroke="#286f94" stroke-width="1.6"/>
</g>
<rect x="41.7" y="255.6" width="55.5" height="45.8" rx="2.2" fill="#fff" fill-opacity="0.8" stroke="#cccccc" stroke-opacity="0.8" stroke-width="0.8"/>
<line x1="44.4" y1="262.40" x2="64.0" y2="262.40" stroke="#1f77b4" stroke-width="1.44"/>
<text x="72.30" y="265.90" font-size="9.75" textLength="20.44" lengthAdjust="spacingAndGlyphs">click</text>
<line x1="44.4" y1="277.10" x2="64.0" y2="277.10" stroke="#ff7f0e" stroke-width="1.44"/>
<text x="72.30" y="280.60" font-size="9.75" textLength="20.60" lengthAdjust="spacingAndGlyphs">boat</text>
<line x1="44.4" y1="291.80" x2="64.0" y2="291.80" stroke="#2ca02c" stroke-width="1.44"/>
<text x="72.30" y="295.30" font-size="9.75" textLength="17.71" lengthAdjust="spacingAndGlyphs">rain</text>
<rect x="36.8" y="20.0" width="298.85" height="286.45" fill="none" stroke="#000" stroke-width="0.85"/>
<path d="M49.80,306.45v3.35 M36.80,304.70h-3.35 M104.20,306.45v3.35 M36.80,250.40h-3.35 M158.60,306.45v3.35 M36.80,196.10h-3.35 M213.00,306.45v3.35 M36.80,141.80h-3.35 M267.40,306.45v3.35 M36.80,87.50h-3.35 M321.80,306.45v3.35 M36.80,33.20h-3.35" stroke="#000" stroke-width="0.8" fill="none"/>
<text x="42.53" y="320.60" font-size="9.75" textLength="14.55" lengthAdjust="spacingAndGlyphs">0.0</text>
<text x="15.25" y="308.15" font-size="9.75" textLength="14.55" lengthAdjust="spacingAndGlyphs">0.0</text>
<text x="96.93" y="320.60" font-size="9.75" textLength="14.55" lengthAdjust="spacingAndGlyphs">0.2</text>
<text x="15.25" y="253.85" font-size="9.75" textLength="14.55" lengthAdjust="spacingAndGlyphs">0.2</text>
<text x="151.33" y="320.60" font-size="9.75" textLength="14.55" lengthAdjust="spacingAndGlyphs">0.4</text>
<text x="15.25" y="199.55" font-size="9.75" textLength="14.55" lengthAdjust="spacingAndGlyphs">0.4</text>
<text x="205.73" y="320.60" font-size="9.75" textLength="14.55" lengthAdjust="spacingAndGlyphs">0.6</text>
<text x="15.25" y="145.25" font-size="9.75" textLength="14.55" lengthAdjust="spacingAndGlyphs">0.6</text>
<text x="260.13" y="320.60" font-size="9.75" textLength="14.55" lengthAdjust="spacingAndGlyphs">0.8</text>
<text x="15.25" y="90.95" font-size="9.75" textLength="14.55" lengthAdjust="spacingAndGlyphs">0.8</text>
<text x="314.53" y="320.60" font-size="9.75" textLength="14.55" lengthAdjust="spacingAndGlyphs">1.0</text>
<text x="15.25" y="36.65" font-size="9.75" textLength="14.55" lengthAdjust="spacingAndGlyphs">1.0</text>
<text x="151.21" y="13.90" font-size="11.71" textLength="69.59" lengthAdjust="spacingAndGlyphs">Performance</text>
<text x="172.35" y="333.70" font-size="9.75" textLength="27.30" lengthAdjust="spacingAndGlyphs">Recall</text>
<text transform="translate(9.20,164.40) rotate(-90)" x="-20.41" y="0" font-size="9.75" textLength="40.82" lengthAdjust="spacingAndGlyphs">Precision</text>
<g clip-path="url(#clipS0)">
<use href="#spec0"/>
</g>
<path d="M380.40,15.10V88.50H679.60V15.10" fill="none" stroke="#000" stroke-width="0.8"/>
<line x1="380.00" y1="15.50" x2="680.00" y2="15.50" stroke="#000" stroke-opacity="0.6" stroke-width="0.8"/>
<path d="M380.40,88.50v3.35 M430.27,88.50v3.35 M480.13,88.50v3.35 M530.00,88.50v3.35 M579.87,88.50v3.35 M629.73,88.50v3.35 M679.60,88.50v3.35 M380.40,88.50h-3.35 M380.40,58.08h-3.35 M380.40,27.67h-3.35" stroke="#000" stroke-width="0.8" fill="none"/>
<text x="377.49" y="102.80" font-size="9.75" textLength="5.82" lengthAdjust="spacingAndGlyphs">0</text>
<text x="427.36" y="102.80" font-size="9.75" textLength="5.82" lengthAdjust="spacingAndGlyphs">5</text>
<text x="474.31" y="102.80" font-size="9.75" textLength="11.64" lengthAdjust="spacingAndGlyphs">10</text>
<text x="524.18" y="102.80" font-size="9.75" textLength="11.64" lengthAdjust="spacingAndGlyphs">15</text>
<text x="574.05" y="102.80" font-size="9.75" textLength="11.64" lengthAdjust="spacingAndGlyphs">20</text>
<text x="623.91" y="102.80" font-size="9.75" textLength="11.64" lengthAdjust="spacingAndGlyphs">25</text>
<text x="673.78" y="102.80" font-size="9.75" textLength="11.64" lengthAdjust="spacingAndGlyphs">30</text>
<text x="367.88" y="91.95" font-size="9.75" textLength="5.82" lengthAdjust="spacingAndGlyphs">0</text>
<text x="362.06" y="61.53" font-size="9.75" textLength="11.64" lengthAdjust="spacingAndGlyphs">20</text>
<text x="362.06" y="31.12" font-size="9.75" textLength="11.64" lengthAdjust="spacingAndGlyphs">40</text>
<text x="514.87" y="9.30" font-size="11.71" textLength="30.26" lengthAdjust="spacingAndGlyphs">clicks</text>
<g clip-path="url(#clipS1)">
<use href="#spec1"/>
</g>
<path d="M380.40,126.10V199.50H679.60V126.10" fill="none" stroke="#000" stroke-width="0.8"/>
<line x1="380.00" y1="126.50" x2="680.00" y2="126.50" stroke="#000" stroke-opacity="0.6" stroke-width="0.8"/>
<path d="M380.40,199.50v3.35 M430.27,199.50v3.35 M480.13,199.50v3.35 M530.00,199.50v3.35 M579.87,199.50v3.35 M629.73,199.50v3.35 M679.60,199.50v3.35 M380.40,199.50h-3.35 M380.40,169.08h-3.35 M380.40,138.67h-3.35" stroke="#000" stroke-width="0.8" fill="none"/>
<text x="377.49" y="213.80" font-size="9.75" textLength="5.82" lengthAdjust="spacingAndGlyphs">0</text>
<text x="427.36" y="213.80" font-size="9.75" textLength="5.82" lengthAdjust="spacingAndGlyphs">5</text>
<text x="474.31" y="213.80" font-size="9.75" textLength="11.64" lengthAdjust="spacingAndGlyphs">10</text>
<text x="524.18" y="213.80" font-size="9.75" textLength="11.64" lengthAdjust="spacingAndGlyphs">15</text>
<text x="574.05" y="213.80" font-size="9.75" textLength="11.64" lengthAdjust="spacingAndGlyphs">20</text>
<text x="623.91" y="213.80" font-size="9.75" textLength="11.64" lengthAdjust="spacingAndGlyphs">25</text>
<text x="673.78" y="213.80" font-size="9.75" textLength="11.64" lengthAdjust="spacingAndGlyphs">30</text>
<text x="367.88" y="202.95" font-size="9.75" textLength="5.82" lengthAdjust="spacingAndGlyphs">0</text>
<text x="362.06" y="172.53" font-size="9.75" textLength="11.64" lengthAdjust="spacingAndGlyphs">20</text>
<text x="362.06" y="142.12" font-size="9.75" textLength="11.64" lengthAdjust="spacingAndGlyphs">40</text>
<text x="517.64" y="120.30" font-size="11.71" textLength="24.73" lengthAdjust="spacingAndGlyphs">boat</text>
<text transform="translate(354.70,163.40) rotate(-90)" x="-38.44" y="0" font-size="9.75" textLength="76.89" lengthAdjust="spacingAndGlyphs">Frequency (kHz)</text>
<g clip-path="url(#clipS2)">
<use href="#spec2"/>
</g>
<path d="M380.40,237.40V310.80H679.60V237.40" fill="none" stroke="#000" stroke-width="0.8"/>
<line x1="380.00" y1="237.80" x2="680.00" y2="237.80" stroke="#000" stroke-opacity="0.6" stroke-width="0.8"/>
<path d="M380.40,310.80v3.35 M430.27,310.80v3.35 M480.13,310.80v3.35 M530.00,310.80v3.35 M579.87,310.80v3.35 M629.73,310.80v3.35 M679.60,310.80v3.35 M380.40,310.80h-3.35 M380.40,280.38h-3.35 M380.40,249.97h-3.35" stroke="#000" stroke-width="0.8" fill="none"/>
<text x="377.49" y="325.10" font-size="9.75" textLength="5.82" lengthAdjust="spacingAndGlyphs">0</text>
<text x="427.36" y="325.10" font-size="9.75" textLength="5.82" lengthAdjust="spacingAndGlyphs">5</text>
<text x="474.31" y="325.10" font-size="9.75" textLength="11.64" lengthAdjust="spacingAndGlyphs">10</text>
<text x="524.18" y="325.10" font-size="9.75" textLength="11.64" lengthAdjust="spacingAndGlyphs">15</text>
<text x="574.05" y="325.10" font-size="9.75" textLength="11.64" lengthAdjust="spacingAndGlyphs">20</text>
<text x="623.91" y="325.10" font-size="9.75" textLength="11.64" lengthAdjust="spacingAndGlyphs">25</text>
<text x="673.78" y="325.10" font-size="9.75" textLength="11.64" lengthAdjust="spacingAndGlyphs">30</text>
<text x="367.88" y="314.25" font-size="9.75" textLength="5.82" lengthAdjust="spacingAndGlyphs">0</text>
<text x="362.06" y="283.83" font-size="9.75" textLength="11.64" lengthAdjust="spacingAndGlyphs">20</text>
<text x="362.06" y="253.42" font-size="9.75" textLength="11.64" lengthAdjust="spacingAndGlyphs">40</text>
<text x="519.37" y="231.60" font-size="11.71" textLength="21.26" lengthAdjust="spacingAndGlyphs">rain</text>
<text x="510.15" y="337.90" font-size="9.75" textLength="38.50" lengthAdjust="spacingAndGlyphs">Time (s)</text>
</svg>
</body></html>
